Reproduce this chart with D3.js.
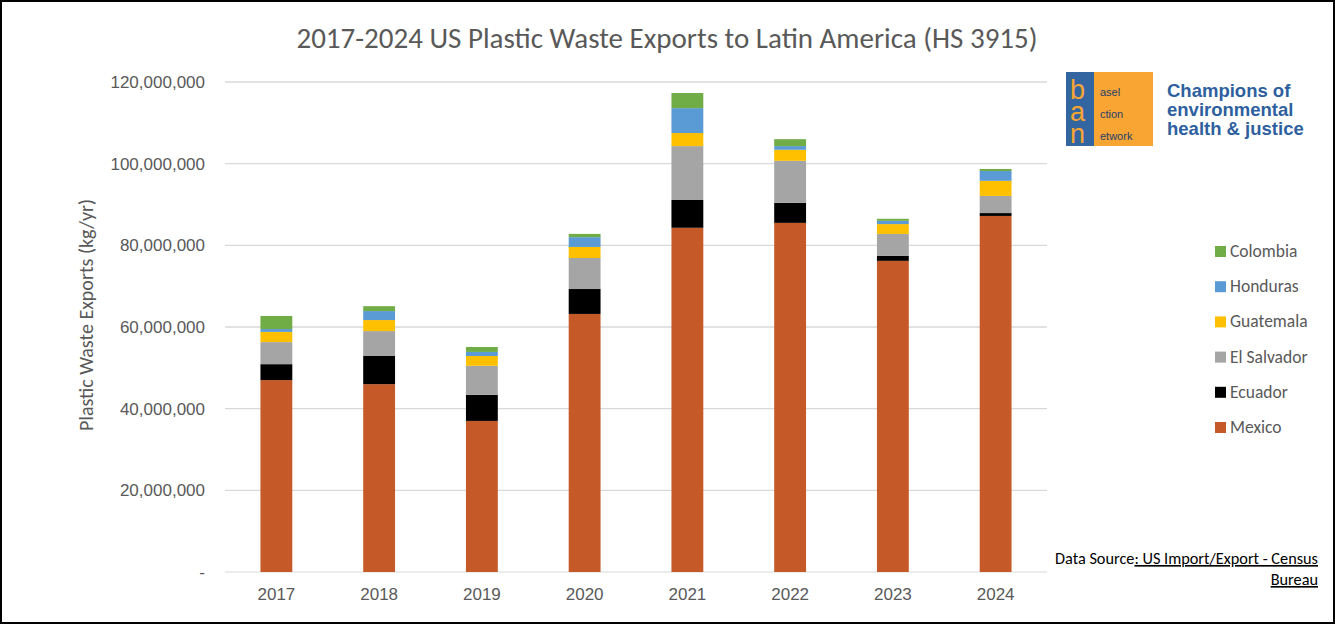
<!DOCTYPE html>
<html>
<head>
<meta charset="utf-8">
<script src="https://cdn.jsdelivr.net/npm/d3@7"></script>
<style>
body { margin: 0; background: #fff; }
svg { display: block; font-family: Calibri, Carlito, "Open Sans", sans-serif; }
</style>
</head>
<body>
<svg id="chart" width="1335" height="624"></svg>
<script>
// values in millions of kg/yr
var years = ['2017','2018','2019','2020','2021','2022','2023','2024'];
var mexico     = [47.0, 46.0, 37.0, 63.2, 84.3, 85.5, 76.2, 87.2];
var ecuador    = [3.9, 6.9, 6.4, 6.1, 6.8, 4.9, 1.2, 0.7];
var elSalvador = [5.4, 6.1, 7.1, 7.6, 13.2, 10.3, 5.4, 4.2];
var guatemala  = [2.5, 2.7, 2.4, 2.7, 3.2, 2.7, 2.4, 3.7];
var honduras   = [0.7, 2.2, 1.0, 2.4, 6.1, 0.9, 0.8, 2.4];
var colombia   = [3.2, 1.2, 1.2, 0.8, 3.7, 1.7, 0.5, 0.5];
var seriesNames = ['Mexico','Ecuador','El Salvador','Guatemala','Honduras','Colombia'];
var seriesColors = ['#c55a28','#000000','#a5a5a5','#ffc000','#5b9bd5','#70ad47'];
var yTicks = [0, 20, 40, 60, 80, 100, 120];

var svg = d3.select('#chart');
var margin = {left:225, right:288, top:82, bottom:52};
var width = +svg.attr('width'), height = +svg.attr('height');
var innerwidth = width - margin.left - margin.right;
var innerheight = height - margin.top - margin.bottom;

var rows = years.map(function(y, i){
	return {year:y, 'Mexico':mexico[i], 'Ecuador':ecuador[i], 'El Salvador':elSalvador[i],
		'Guatemala':guatemala[i], 'Honduras':honduras[i], 'Colombia':colombia[i]};
});
var stacked = d3.stack().keys(seriesNames)(rows);

var xscale = d3.scaleBand().domain(years).range([0, innerwidth]).paddingInner(0.69).paddingOuter(0.345);
var yscale = d3.scaleLinear().domain([0, 120]).range([innerheight, 0]);

svg.append('rect').attr('x',1).attr('y',1).attr('width',width-2).attr('height',height-2)
	.attr('fill','#fff').attr('stroke','#000').attr('stroke-width',2);

var g = svg.append('g').attr('transform', `translate(${margin.left},${margin.top})`);

// gridlines
g.append('g').selectAll('line').data(yTicks.slice(1)).enter().append('line')
	.attr('x1',0).attr('x2',innerwidth)
	.attr('y1',d => yscale(d)).attr('y2',d => yscale(d))
	.attr('stroke','#d9d9d9').attr('stroke-width',1.3);

g.append('line').attr('x1',0).attr('x2',innerwidth)
	.attr('y1',innerheight).attr('y2',innerheight).attr('stroke','#d9d9d9');

// y axis labels
var yax = g.append('g').call(d3.axisLeft(yscale).tickValues(yTicks)
	.tickSize(0).tickPadding(20)
	.tickFormat(d => d === 0 ? '-' : d3.format(',')(d * 1000000)));
yax.select('.domain').remove();
yax.selectAll('text').attr('font-size',17).attr('fill','#595959').style('font-family','inherit');

var xax = g.append('g').attr('transform', `translate(0,${innerheight})`)
	.call(d3.axisBottom(xscale).tickSize(0).tickPadding(16));
xax.select('.domain').remove();
xax.selectAll('text').attr('font-size',17).attr('fill','#595959').style('font-family','inherit');

// bars
g.append('g').selectAll('g').data(stacked).enter().append('g')
	.attr('fill', (d, i) => seriesColors[i])
	.selectAll('rect').data(d => d).enter().append('rect')
	.attr('x', d => xscale(d.data.year))
	.attr('y', d => yscale(d[1]))
	.attr('height', d => yscale(d[0]) - yscale(d[1]))
	.attr('width', xscale.bandwidth());

// title
svg.append('text').attr('x',667).attr('y',48).attr('text-anchor','middle')
	.attr('font-size',29).attr('fill','#595959')
	.text('2017-2024 US Plastic Waste Exports to Latin America (HS 3915)');

svg.append('text').attr('transform','translate(93,315) rotate(-90)')
	.attr('text-anchor','middle').attr('font-size',20).attr('fill','#595959')
	.text('Plastic Waste Exports (kg/yr)');

// legend (top item is Colombia)
var legend = svg.append('g').attr('transform','translate(1215,251)');
var legendOrder = seriesNames.slice().reverse();
legendOrder.forEach(function(name, i){
	var row = legend.append('g').attr('transform', `translate(0,${i*35.2})`);
	row.append('rect').attr('x',0).attr('y',-5).attr('width',11).attr('height',11)
		.attr('fill', seriesColors[seriesNames.indexOf(name)]);
	row.append('text').attr('x',15).attr('y',6).attr('font-size',17.5).attr('fill','#595959').text(name);
});

// logo
var logo = svg.append('g');
logo.append('rect').attr('x',1066).attr('y',72).attr('width',28).attr('height',74).attr('fill','#3366a0');
logo.append('rect').attr('x',1094).attr('y',72).attr('width',59).attr('height',74).attr('fill','#f9a533');
[['b','asel',99],['a','ction',121],['n','etwork',143]].forEach(function(p){
	logo.append('text').attr('x',1070).attr('y',p[2]).attr('font-size',27)
		.attr('fill','#f9a533').style('font-family','Arial, Liberation Sans').text(p[0]);
	logo.append('text').attr('x',1100).attr('y',p[2]-3).attr('font-size',11)
		.attr('fill','#1d3f6e').style('font-family','Arial, Liberation Sans').text(p[1]);
});
['Champions of','environmental','health & justice'].forEach(function(t, i){
	logo.append('text').attr('x',1167).attr('y',97 + i*19).attr('font-size',18.5)
		.attr('font-weight','bold').attr('fill','#2e5f9e')
		.style('font-family','Arial, Liberation Sans').text(t);
});

// data source
var src = svg.append('text').attr('x',1318).attr('y',564).attr('text-anchor','end')
	.attr('font-size',16.3).attr('fill','#000');
src.append('tspan').text('Data Source');
src.append('tspan').attr('text-decoration','underline').text(': US Import/Export - Census');
svg.append('text').attr('x',1318).attr('y',585).attr('text-anchor','end')
	.attr('font-size',16.3).attr('text-decoration','underline').text('Bureau');
</script>
</body>
</html>
